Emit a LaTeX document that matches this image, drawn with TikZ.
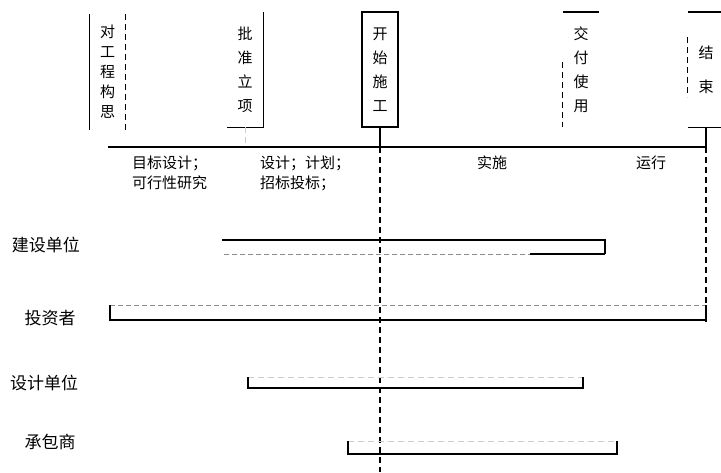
\documentclass[tikz,border=0pt]{standalone}
\usepackage{fontspec}
\newfontfamily\cjk{Noto Sans CJK SC}
\begin{document}
\begin{tikzpicture}[x=1pt,y=-1pt,
  vtext/.style={font=\cjk\fontsize{15}{24}\selectfont, align=center, inner sep=0pt,
                minimum width=36pt, minimum height=115pt},
  rowlbl/.style={font=\cjk\fontsize{17}{18}\selectfont, inner sep=0pt},
  phase/.style={font=\cjk\fontsize{15}{20}\selectfont, align=left, inner sep=0pt},
  strong/.style={line width=1.4pt, black},
  weak/.style={line width=1pt, black!45, dashed, dash pattern=on 5pt off 3pt},
  faint/.style={line width=0.8pt, black!20, dashed, dash pattern=on 6pt off 4pt},
  dashv/.style={line width=1.2pt, dash pattern=on 6pt off 4pt}
]
\useasboundingbox (0,0) rectangle (721,472);
\fill[white] (0,0) rectangle (721,472);

% milestone boxes
\node[vtext] (b1) at (107.5,72) {对\\[-4pt]工\\[-4pt]程\\[-4pt]构\\[-4pt]思};
\node[vtext] (b2) at (245,69.5) {批\\准\\立\\项};
\node[vtext] (b3) at (380,69.5) {开\\始\\施\\工};
\node[vtext] (b4) at (581,69.5) {交\\付\\使\\用};
\node[vtext] (b5) at (706,69.5) {结\\[10pt]束};

% box outlines as printed
\draw[strong] (b1.north west) -- (b1.south west);
\draw[dashv, line width=1pt] (b1.north east) -- (b1.south east);
\draw[strong] (b2.north east) -- (b2.south east) -- (b2.south west);
\draw[strong, line width=1.8pt] (b3.north west) rectangle (b3.south east);
\draw[strong] (b4.north west) -- (b4.north east);
\draw[dashv, line width=1pt] (b4.north west) ++(0,50) -- (b4.south west);
\draw[strong] (b5.north west) -- (b5.north east);
\draw[dashv, line width=1pt] (b5.north west) ++(0,25) -- ++(0,60);
\draw[strong] (b5.south west) -- (b5.south east);

% timeline
\coordinate (tl) at (108,147);
\coordinate (tr) at (706,147);
\draw[strong] (tl) -- (tr);

% connectors from milestones
\draw[faint] (b2.south) -- (b2.south |- tl);
\draw[strong] (b3.south) -- (b3.south |- tl);
\coordinate (b3end) at (380,472);
\draw[dashv] (b3.south |- tl) -- (b3end);
\draw[strong] (b5.south) -- (b5.south |- tl);
\coordinate (b5end) at (706,322);
\draw[dashv] (b5.south |- tl) -- (b5end);

% phase labels
\node[phase, anchor=west] (p1) at (132,173) {目标设计；\\可行性研究};
\node[phase, anchor=west] (p2) at (260,173) {设计；计划；\\招标投标；};
\node[phase] (p3) at (492,163) {实施};
\node[phase] (p4) at (651,163) {运行};

% row labels
\node[rowlbl] (r1) at (46,245) {建设单位};
\node[rowlbl] (r2) at (50,318) {投资者};
\node[rowlbl] (r3) at (44,383) {设计单位};
\node[rowlbl] (r4) at (50,442) {承包商};

% participation bars
% 建设单位
\coordinate (a1) at (222,240); \coordinate (a2) at (605,240);
\coordinate (a3) at (605,254); \coordinate (a4) at (222,254);
\draw[strong] (a1) -- (a2) -- (a3);
\draw[weak] (a3) -- (a4);
\draw[strong] (a3) -- (530,254);
% 投资者
\coordinate (c1) at (110,305); \coordinate (c2) at (706,305);
\coordinate (c3) at (706,320); \coordinate (c4) at (110,320);
\draw[weak] (c1) -- (c2);
\draw[strong] (c1) -- (c4) -- (c3) -- (c2);
% 设计单位
\coordinate (d1) at (248,377); \coordinate (d2) at (583,377);
\coordinate (d3) at (583,388); \coordinate (d4) at (248,388);
\draw[faint] (d1) -- (d2);
\draw[strong, line width=1.2pt] (d1) -- (d4) -- (d3) -- (d2);
% 承包商
\coordinate (e1) at (348,441); \coordinate (e2) at (617,441);
\coordinate (e3) at (617,454); \coordinate (e4) at (348,454);
\draw[faint] (e1) -- (e2);
\draw[strong, line width=1.2pt] (e1) -- (e4) -- (e3) -- (e2);
\end{tikzpicture}
\end{document}
